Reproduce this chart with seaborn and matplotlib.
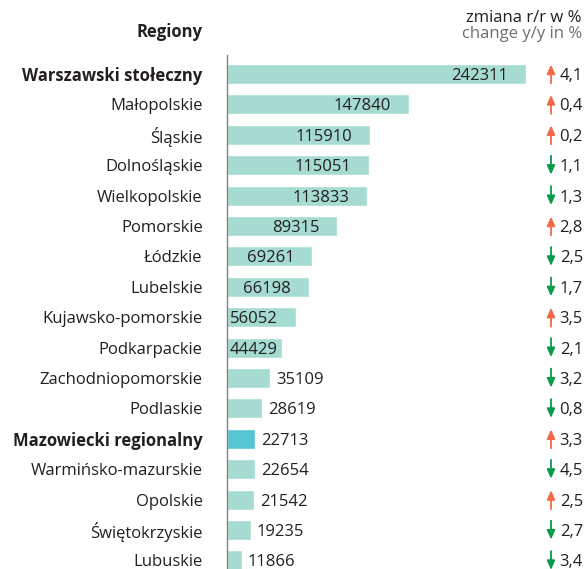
import matplotlib
matplotlib.use("Agg")
import matplotlib.pyplot as plt
import seaborn as sns
import pandas as pd

regions = ["Warszawski stołeczny", "Małopolskie", "Śląskie", "Dolnośląskie", "Wielkopolskie",
           "Pomorskie", "Łódzkie", "Lubelskie", "Kujawsko-pomorskie", "Podkarpackie",
           "Zachodniopomorskie", "Podlaskie", "Mazowiecki regionalny", "Warmińsko-mazurskie",
           "Opolskie", "Świętokrzyskie", "Lubuskie"]
values = [242311, 147840, 115910, 115051, 113833, 89315, 69261, 66198, 56052, 44429,
          35109, 28619, 22713, 22654, 21542, 19235, 11866]
changes = [4.1, 0.4, 0.2, -1.1, -1.3, 2.8, -2.5, -1.7, 3.5, -2.1,
           -3.2, -0.8, 3.3, -4.5, 2.5, -2.7, -3.4]
bold_regions = ["Warszawski stołeczny", "Mazowiecki regionalny"]

TEXT = "#231f20"
BAR = "#a5dbd1"
HIGHLIGHT = "#55c4d3"
UP = "#f26a45"
DOWN = "#0b9a4c"
FS = 12

sns.set_theme(style="white")
plt.rcParams["font.family"] = ["Open Sans", "DejaVu Sans"]

df = pd.DataFrame({"region": regions, "value": values})
palette = {r: (HIGHLIGHT if r == "Mazowiecki regionalny" else BAR) for r in regions}

fig = plt.figure(figsize=(5.88, 5.69), dpi=100)
ax = fig.add_axes([227 / 588, 0, 361 / 588, 1 - 55 / 569])

sns.barplot(data=df, x="value", y="region", hue="region", palette=palette,
            legend=False, width=0.66, orient="h", ax=ax, saturation=1)

px_per_unit = 299 / 242311
ax.set_xlim(0, 361 / px_per_unit)
ax.set_ylim(16.28, -0.625)

for s in ["top", "right", "bottom"]:
    ax.spines[s].set_visible(False)
ax.spines["left"].set_color("#808080")
ax.spines["left"].set_linewidth(1.0)
ax.set_xticks([])
ax.set_xlabel("")
ax.set_ylabel("")
ax.tick_params(axis="y", length=0, pad=17.5, labelsize=FS, labelcolor=TEXT)
for lbl in ax.get_yticklabels():
    if lbl.get_text() in bold_regions:
        lbl.set_fontweight("bold")

# value labels
VA = "center_baseline"
for i, v in enumerate(values):
    if v > 50000:
        ax.annotate(f"{v}", xy=(v, i), xytext=(-13, 0), textcoords="offset points",
                    ha="right", va=VA, fontsize=FS, color=TEXT)
    elif v > 40000:
        ax.annotate(f"{v}", xy=(0, i), xytext=(2, 0), textcoords="offset points",
                    ha="left", va=VA, fontsize=FS, color=TEXT)
    else:
        ax.annotate(f"{v}", xy=(v, i), xytext=(4.5, 0), textcoords="offset points",
                    ha="left", va=VA, fontsize=FS, color=TEXT)

# change arrows and numbers
arrow_x = (551 - 227) / 361
num_x = (583 - 227) / 361
for i, c in enumerate(changes):
    if c >= 0:
        tail, tip, col = i + 0.31, i - 0.31, UP
    else:
        tail, tip, col = i - 0.31, i + 0.31, DOWN
    ax.annotate("", xy=(arrow_x, tip), xytext=(arrow_x, tail),
                xycoords=("axes fraction", "data"), textcoords=("axes fraction", "data"),
                arrowprops=dict(arrowstyle="-|>,head_length=0.45,head_width=0.2",
                                color=col, lw=1.3, shrinkA=0, shrinkB=0),
                annotation_clip=False)
    ax.text(num_x, i, f"{abs(c):.1f}".replace(".", ","), transform=ax.get_yaxis_transform(),
            ha="right", va=VA, fontsize=FS, color=TEXT, clip_on=False)

fig.text(202 / 588, 1 - 32 / 569, "Regiony", ha="right", va="center",
         fontsize=FS, fontweight="bold", color=TEXT)
fig.text(582 / 588, 1 - 18 / 569, "zmiana r/r w %", ha="right", va="center",
         fontsize=FS, color=TEXT)
fig.text(582 / 588, 1 - 34 / 569, "change y/y in %", ha="right", va="center",
         fontsize=FS, color="#6d6e71")

fig.savefig("out.png", dpi=100)
